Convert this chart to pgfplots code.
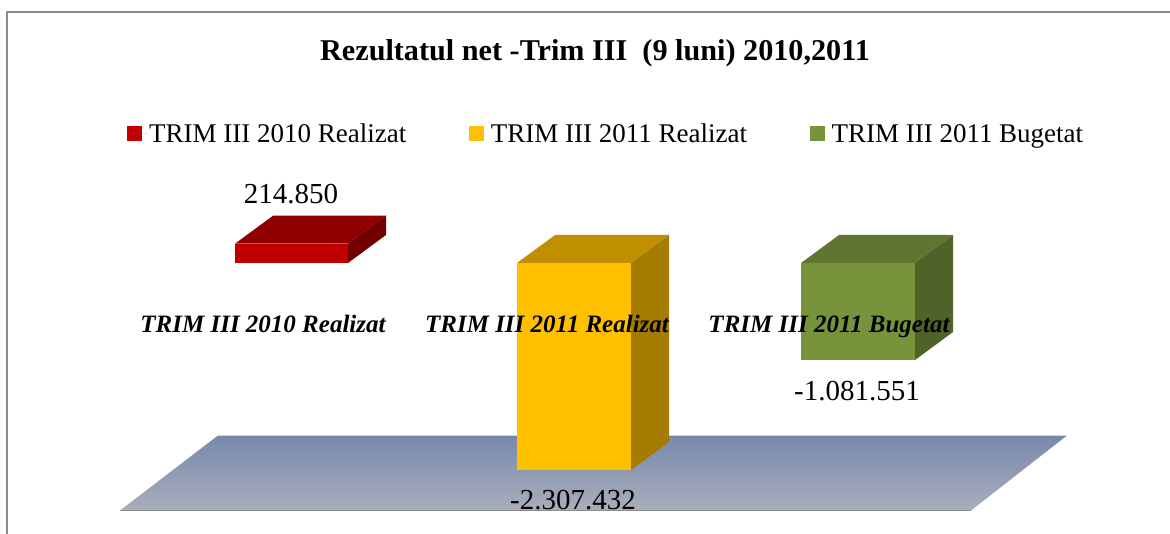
\documentclass[border=0pt]{standalone}
\usepackage{pgfplots}
\pgfplotsset{compat=1.18}
\usepackage{fontspec}
\setmainfont{Liberation Serif}
\definecolor{rF}{HTML}{C00000}\definecolor{rT}{HTML}{900000}\definecolor{rS}{HTML}{730000}
\definecolor{yF}{HTML}{FFC000}\definecolor{yT}{HTML}{C09000}\definecolor{yS}{HTML}{A67C00}
\definecolor{gF}{HTML}{77933C}\definecolor{gT}{HTML}{5F7530}\definecolor{gS}{HTML}{4F6228}
\definecolor{flT}{HTML}{7789AB}\definecolor{flB}{HTML}{A9AEBB}
\begin{document}
\begin{tikzpicture}
\path[use as bounding box] (0,0) rectangle (1170pt,534pt);
\begin{axis}[
  at={(0,0)},anchor=south west,
  scale only axis,width=1170pt,height=534pt,
  xmin=0,xmax=1170,ymin=-3020837,ymax=2931661,
  hide axis,clip=false,
  area legend,
  legend image code/.code={\fill[#1] (0pt,-7pt) rectangle (15pt,8pt);\path (0pt,0pt) -- (20pt,0pt);},
  legend style={at={(axis cs:127,1450000)},anchor=west,draw=none,fill=none,
    font=\fontsize{27}{30}\selectfont,legend columns=3,
    /tikz/every even column/.append style={column sep=60.5pt},
    inner xsep=0pt,inner ysep=0pt,yshift=-1pt},
]
% frame
\draw[draw=black!45,line width=2.5pt] (axis cs:7,-3020837) -- (axis cs:7,2798000) -- (axis cs:1170,2798000);
% floor
\addplot[forget plot,draw=none,top color=flT,bottom color=flB] coordinates {(218,-1923000)(1067,-1923000)(971,-2759000)(120,-2759000)} -- cycle;
\addplot[forget plot,draw=black!45,line width=1.5pt] coordinates {(120,-2759000)(971,-2759000)};
% red
\addplot[ybar,bar width=113pt,bar shift=0pt,fill=rF,draw=none] coordinates {(291,214850)};
\addlegendentry{TRIM III 2010 Realizat}
\addplot[forget plot,fill=rT,draw=none] coordinates {(235,214850)(273,526966)(386,526966)(348,214850)} -- cycle;
\addplot[forget plot,fill=rS,draw=none] coordinates {(348,214850)(386,526966)(386,312116)(348,0)} -- cycle;
% yellow
\addplot[ybar,bar width=114pt,bar shift=0pt,fill=yF,draw=none] coordinates {(574,-2307432)};
\addlegendentry{TRIM III 2011 Realizat}
\addplot[forget plot,fill=yT,draw=none] coordinates {(517,0)(555,312116)(669,312116)(631,0)} -- cycle;
\addplot[forget plot,fill=yS,draw=none] coordinates {(631,0)(669,312116)(669,-1995316)(631,-2307432)} -- cycle;
% green
\addplot[ybar,bar width=114pt,bar shift=0pt,fill=gF,draw=none] coordinates {(858,-1081551)};
\addlegendentry{TRIM III 2011 Bugetat}
\addplot[forget plot,fill=gT,draw=none] coordinates {(801,0)(839,312116)(953,312116)(915,0)} -- cycle;
\addplot[forget plot,fill=gS,draw=none] coordinates {(915,0)(953,312116)(953,-769435)(915,-1081551)} -- cycle;
% texts
\node[font=\fontsize{30.2}{32}\selectfont\bfseries] at (axis cs:595,2340000) {Rezultatul net -Trim III\ \ (9 luni) 2010,2011};
\node[font=\fontsize{29}{32}\selectfont] at (axis cs:291,769000) {214.850};
\node[font=\fontsize{29}{32}\selectfont] at (axis cs:573,-2642000) {-2.307.432};
\node[font=\fontsize{29}{32}\selectfont] at (axis cs:857,-1426000) {-1.081.551};
\node[anchor=base,font=\fontsize{25}{30}\selectfont\bfseries\itshape] at (axis cs:263,-780000) {TRIM III 2010 Realizat};
\node[anchor=base,font=\fontsize{25}{30}\selectfont\bfseries\itshape] at (axis cs:547,-780000) {TRIM III 2011 Realizat};
\node[anchor=base,font=\fontsize{25}{30}\selectfont\bfseries\itshape] at (axis cs:829,-780000) {TRIM III 2011 Bugetat};
\end{axis}
\end{tikzpicture}
\end{document}
